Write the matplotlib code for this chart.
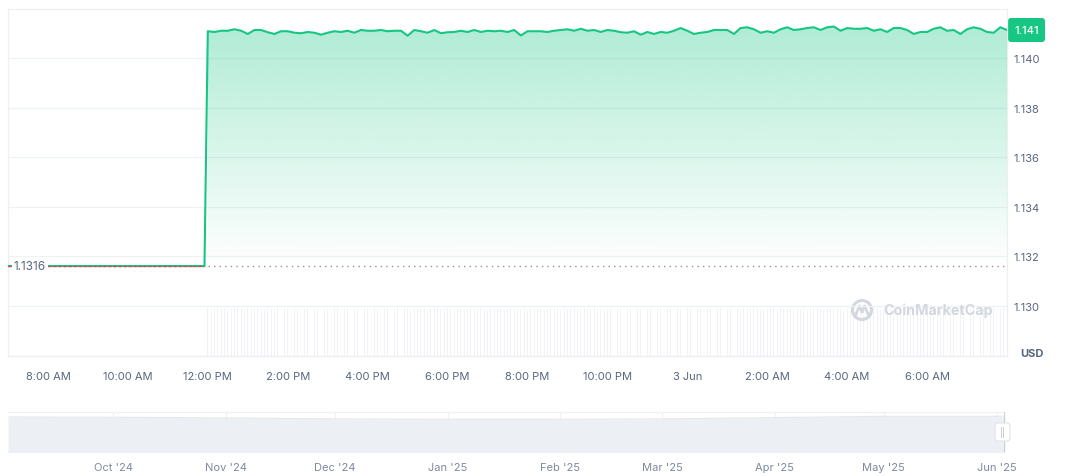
import matplotlib.pyplot as plt
import matplotlib.dates as mdates
import numpy as np
import pandas as pd
from matplotlib.patches import FancyBboxPatch, Circle
from matplotlib.lines import Line2D
from matplotlib.transforms import IdentityTransform

plt.rcParams['font.family'] = ['Inter', 'DejaVu Sans']

# flat price before the jump (5 min steps)
open_price = 1.1316
flat_start = '2025-06-02 07:00'
flat_end = '2025-06-02 11:55'

# price every 10 min from 12:00 PM, 2 Jun -> 8:00 AM, 3 Jun
price_start = '2025-06-02 12:00'
prices = [
    1.14110, 1.14107, 1.14112, 1.14112, 1.14118, 1.14112, 1.14099, 1.14115, 1.14115, 1.14106,
    1.14099, 1.14110, 1.14110, 1.14104, 1.14102, 1.14107, 1.14104, 1.14096, 1.14104, 1.14110,
    1.14107, 1.14112, 1.14104, 1.14115, 1.14112, 1.14112, 1.14115, 1.14110, 1.14112, 1.14112,
    1.14092, 1.14115, 1.14110, 1.14104, 1.14115, 1.14102, 1.14106, 1.14107, 1.14112, 1.14107,
    1.14115, 1.14107, 1.14112, 1.14110, 1.14112, 1.14107, 1.14115, 1.14093, 1.14110, 1.14110,
    1.14110, 1.14107, 1.14112, 1.14115, 1.14118, 1.14112, 1.14120, 1.14112, 1.14115, 1.14107,
    1.14115, 1.14112, 1.14106, 1.14104, 1.14110, 1.14096, 1.14107, 1.14099, 1.14107, 1.14104,
    1.14112, 1.14123, 1.14112, 1.14099, 1.14104, 1.14107, 1.14115, 1.14115, 1.14115, 1.14099,
    1.14123, 1.14126, 1.14118, 1.14104, 1.14110, 1.14104, 1.14118, 1.14126, 1.14115, 1.14118,
    1.14123, 1.14126, 1.14115, 1.14126, 1.14129, 1.14112, 1.14123, 1.14120, 1.14120, 1.14123,
    1.14112, 1.14118, 1.14107, 1.14123, 1.14123, 1.14115, 1.14099, 1.14107, 1.14107, 1.14120,
    1.14126, 1.14112, 1.14115, 1.14099, 1.14118, 1.14126, 1.14120, 1.14107, 1.14104, 1.14126,
    1.14115,
]

# volume every 5 min from 12:00 PM
volumes = [
    100, 97, 99, 100, 98, 100, 96, 99, 100, 98, 99, 97, 100, 99, 98, 100, 97, 99, 100, 98, 96, 100, 99, 98,
    99, 100, 98, 97, 100, 99, 100, 98, 96, 99, 100, 97, 99, 98, 100, 100, 97, 99, 98, 100, 99, 96, 100, 98,
    98, 99, 100, 97, 99, 100, 98, 99, 97, 100, 98, 99, 100, 96, 99, 98, 100, 99, 97, 98, 100, 99, 98, 100,
    100, 98, 97, 99, 100, 98, 99, 100, 97, 98, 100, 99, 96, 100, 98, 99, 100, 97, 99, 100, 98, 97, 99, 100,
    97, 100, 99, 98, 100, 96, 99, 100, 98, 99, 97, 100, 99, 98, 100, 97, 99, 100, 98, 99, 100, 97, 98, 99,
    99, 98, 100, 97, 99, 100, 98, 96, 100, 99, 98, 100, 97, 99, 100, 98, 99, 97, 100, 98, 99, 100, 96, 99,
    100, 99, 97, 98, 100, 99, 98, 100, 97, 99, 100, 98, 96, 99, 100, 98, 97, 100, 99, 98, 100, 99, 97, 98,
    98, 100, 99, 97, 100, 98, 99, 100, 96, 98, 99, 100, 97, 99, 98, 100, 99, 97, 100, 98, 99, 100, 98, 97,
    99, 97, 100, 98, 99, 100, 97, 99, 98, 100, 96, 99, 100, 98, 99, 97, 100, 99, 98, 100, 97, 99, 100, 98,
    100, 98, 99, 100, 97, 99, 98, 100, 99, 96, 100, 98, 97, 99, 100, 98, 99, 100, 97, 98, 100, 99, 98, 100,
]

y_ticks = [1.130, 1.132, 1.134, 1.136, 1.138, 1.140]
x_tick_times = ['2025-06-02 08:00', '2025-06-02 10:00', '2025-06-02 12:00', '2025-06-02 14:00',
                '2025-06-02 16:00', '2025-06-02 18:00', '2025-06-02 20:00', '2025-06-02 22:00',
                '2025-06-03 00:00', '2025-06-03 02:00', '2025-06-03 04:00', '2025-06-03 06:00']
x_tick_labels = ['8:00 AM', '10:00 AM', '12:00 PM', '2:00 PM', '4:00 PM', '6:00 PM',
                 '8:00 PM', '10:00 PM', '3 Jun', '2:00 AM', '4:00 AM', '6:00 AM']

# navigator (long range overview)
nav_dates = ['2024-09-02 00:00', '2024-10-01 00:00', '2024-11-01 00:00', '2024-12-01 00:00',
             '2025-01-01 00:00', '2025-02-01 00:00', '2025-03-01 00:00', '2025-04-01 00:00',
             '2025-05-01 00:00', '2025-06-01 00:00', '2025-06-03 08:00']
nav_values = [1.11, 1.10, 1.08, 1.05, 1.04, 1.04, 1.05, 1.09, 1.13, 1.13, 1.14]
nav_tick_dates = ['2024-10-01', '2024-11-01', '2024-12-01', '2025-01-01', '2025-02-01',
                  '2025-03-01', '2025-04-01', '2025-05-01', '2025-06-01']
nav_tick_labels = ["Oct '24", "Nov '24", "Dec '24", "Jan '25", "Feb '25",
                   "Mar '25", "Apr '25", "May '25", "Jun '25"]

green = '#16c784'
red = '#ea3943'
grid_c = '#eff2f5'
text_c = '#58667e'

W, H = 1072, 477
fig = plt.figure(figsize=(W / 100, H / 100), dpi=100)
fig.patch.set_facecolor('white')


def box(x0, y0, x1, y1):
    return [x0 / W, 1 - y1 / H, (x1 - x0) / W, (y1 - y0) / H]


flat_t = pd.date_range(flat_start, flat_end, freq='5min')
flat_p = [open_price] * len(flat_t)
price_t = pd.date_range(price_start, periods=len(prices), freq='10min')
vol_t = pd.date_range(price_start, periods=len(volumes), freq='5min')
x_min = pd.Timestamp('2025-06-02 07:00')
x_max = pd.Timestamp('2025-06-03 08:00')

# volume layer (behind)
axv = fig.add_axes(box(8, 10, 1007, 357))
axv.bar(vol_t, volumes, width=1.3 / 1440, color='#f0f2f5', linewidth=0)
axv.set_ylim(0, max(volumes) / 0.138)
axv.set_xlim(x_min, x_max)
axv.axis('off')

# price layer
ax = fig.add_axes(box(8, 10, 1007, 357), sharex=axv)
ax.patch.set_alpha(0)
ax.set_zorder(2)
ax.set_ylim(1.12796, 1.14200)
ax.set_xlim(x_min, x_max)

all_t = flat_t.append(price_t)
all_p = flat_p + prices
ax.plot(all_t, all_p, color=green, lw=1.5, zorder=4, solid_joinstyle='round')
ax.plot(flat_t, flat_p, color=red, lw=0.9, ls=(0, (2.5, 1.5)), zorder=5)

# gradient fill under the price
poly = ax.fill_between(price_t, prices, open_price, color='none', lw=0)
x0n, x1n = mdates.date2num(price_t[0]), mdates.date2num(price_t[-1])
rgba = np.zeros((256, 1, 4))
rgba[..., :3] = plt.matplotlib.colors.to_rgb(green)
rgba[..., 3] = np.linspace(0.34, 0.0, 256)[:, None]
im = ax.imshow(rgba, extent=[x0n, x1n, open_price, max(prices)], aspect='auto',
               origin='upper', zorder=3, interpolation='bilinear')
im.set_clip_path(poly.get_paths()[0], ax.transData)
ax.set_xlim(x_min, x_max)
ax.set_ylim(1.12796, 1.14200)

# open price dotted line
ax.axhline(open_price, color='#8a93a3', lw=1.0, ls=(0, (1, 3)), zorder=2)
ax.text(0.006, open_price, '1.1316', transform=ax.get_yaxis_transform(), fontsize=8.5,
        color=text_c, va='center', ha='left', zorder=6,
        bbox=dict(facecolor='white', edgecolor='none', pad=1.5))

ax.set_yticks(y_ticks)
ax.set_yticklabels([f'{v:.3f}' for v in y_ticks])
ax.yaxis.tick_right()
ax.tick_params(axis='y', length=0, pad=5, labelsize=8, labelcolor=text_c)
ax.grid(axis='y', color=grid_c, lw=0.9)
ax.set_axisbelow(True)

ax.set_xticks(pd.to_datetime(x_tick_times))
ax.set_xticklabels(x_tick_labels)
ax.tick_params(axis='x', length=0, pad=11, labelsize=8, labelcolor=text_c)
for s in ax.spines.values():
    s.set_color('#eceff3')
    s.set_linewidth(0.9)

fig.text(1032 / W, 1 - 354 / H, 'USD', fontsize=8, fontweight='bold', color=text_c,
         ha='center', va='center')

# last price badge
ypix = ax.transData.transform((0, prices[-1]))[1]
badge = FancyBboxPatch((1008, ypix - 12), 37, 24, boxstyle='round,pad=0,rounding_size=3',
                       transform=IdentityTransform(), facecolor=green, edgecolor='none')
fig.add_artist(badge)
fig.text(1026.5 / W, ypix / H, f'{prices[-1]:.3f}', fontsize=8, color='white',
         ha='center', va='center', fontweight='medium')

# watermark
wm_c = '#d3d7de'
fig.add_artist(Circle((862, H - 311), 9.5, transform=IdentityTransform(), fill=False,
                      edgecolor=wm_c, lw=2.2))
fig.add_artist(Line2D([856, 859.5, 862, 864.5, 868], [H - 315, H - 307, H - 313, H - 307, H - 315],
                      transform=IdentityTransform(), color=wm_c, lw=2))
fig.text(883 / W, 1 - 311 / H, 'CoinMarketCap', fontsize=10.3, fontweight='bold', color=wm_c,
         ha='left', va='center')

# navigator
nav = fig.add_axes(box(8, 413, 1005, 453))
nav_t = pd.to_datetime(nav_dates, format='%Y-%m-%d %H:%M')
nav.fill_between(nav_t, nav_values, 0, color='#eceff3', lw=0, zorder=2)
nav.plot(nav_t, nav_values, color='#e4e7ec', lw=0.8, zorder=3)
nav.set_xlim(nav_t[0], nav_t[-1])
nav.set_ylim(0, 1.267)
nav.set_yticks([])
nav.set_xticks(pd.to_datetime(nav_tick_dates))
nav.set_xticklabels(nav_tick_labels)
nav.tick_params(axis='x', length=0, pad=7, labelsize=8, labelcolor='#808a9d')
nav.grid(axis='x', color='#eef0f3', lw=0.8, zorder=1)
for name, s in nav.spines.items():
    if name in ('top', 'bottom'):
        s.set_color('#eef0f3')
        s.set_linewidth(0.8)
    else:
        s.set_visible(False)
nav.axvline(nav_t[-1], color='#c4c9d1', lw=1.2, zorder=4)

handle = FancyBboxPatch((995, H - 442), 15, 18, boxstyle='round,pad=0,rounding_size=3',
                        transform=IdentityTransform(), facecolor='white', edgecolor='#dfe3e8', lw=0.8)
fig.add_artist(handle)
fig.text(1002.5 / W, 1 - 433 / H, '||', fontsize=6, color='#a6b0c3', ha='center', va='center')

plt.savefig('out.png', dpi=100)
